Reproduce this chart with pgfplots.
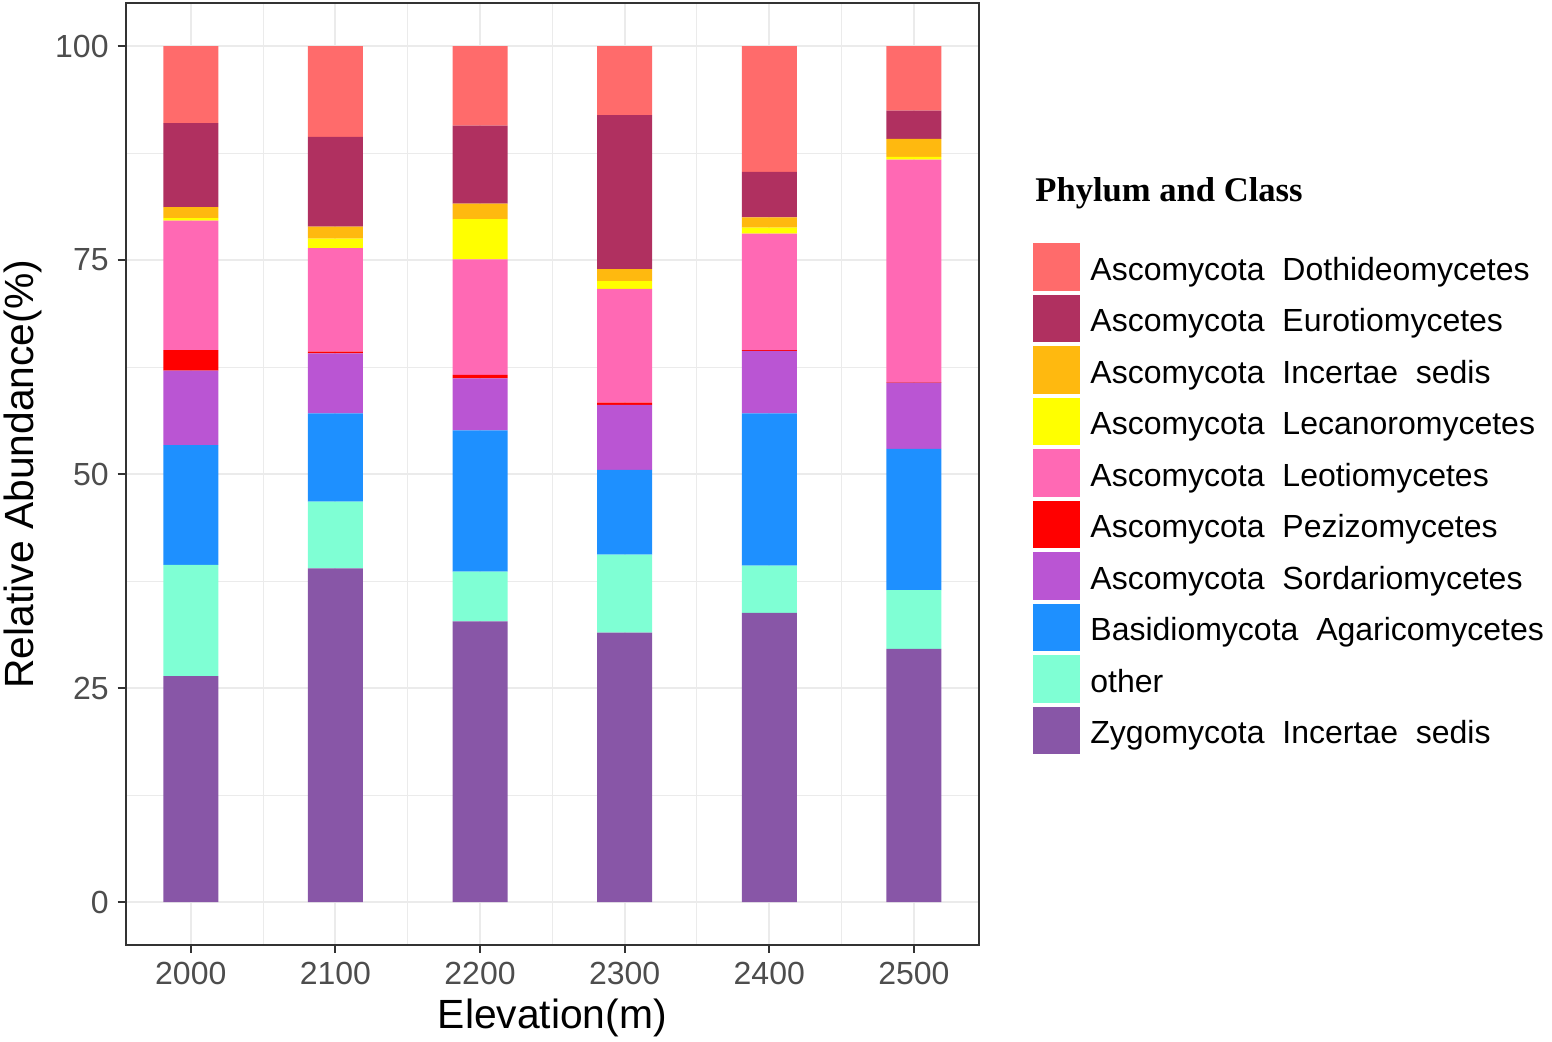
\documentclass[border=0pt]{standalone}
\usepackage{pgfplots}
\pgfplotsset{compat=1.18}
\usepackage{pgfplotstable}
\usepackage{fontspec}
\setmainfont{Liberation Sans}
\newfontfamily\titleserif{Liberation Serif}
\definecolor{cDoth}{HTML}{FF6B6B}
\definecolor{cEuro}{HTML}{B03060}
\definecolor{cInc}{HTML}{FFB90F}
\definecolor{cLec}{HTML}{FFFF00}
\definecolor{cLeo}{HTML}{FF69B4}
\definecolor{cPez}{HTML}{FF0000}
\definecolor{cSord}{HTML}{BA55D3}
\definecolor{cAgar}{HTML}{1E90FF}
\definecolor{cOther}{HTML}{7FFFD4}
\definecolor{cZygo}{HTML}{8856A7}
\definecolor{gridc}{HTML}{EBEBEB}
\definecolor{axc}{HTML}{333333}
\definecolor{tickc}{HTML}{4D4D4D}
\pgfplotstableread{
x Zygo other Agar Sord Pez Leo Lec Inc Euro Doth
0 26.4 13.0 14.0 8.7 2.4 15.1 0.3 1.3 9.8 9.0
1 39.0 7.8 10.3 7.0 0.2 12.1 1.1 1.4 10.5 10.6
2 32.8 5.8 16.5 6.1 0.4 13.5 4.7 1.8 9.1 9.3
3 31.5 9.1 9.9 7.6 0.25 13.3 0.9 1.4 18.0 8.05
4 33.8 5.5 17.8 7.3 0.1 13.6 0.7 1.2 5.3 14.7
5 29.6 6.85 16.5 7.75 0.05 26.0 0.3 2.1 3.3 7.55
}\data
\newcommand{\gap}{\hspace{0.556em}}
\begin{document}
\begin{tikzpicture}
\useasboundingbox (-62.85pt,-48.5pt) rectangle (713.15pt,472.5pt);
\begin{axis}[
  scale only axis, width=426.65pt, height=470.85pt,
  xmin=-0.45, xmax=5.45, ymin=-5, ymax=105,
  ybar stacked, bar width=0.38,
  clip=false,
  xtick={0,1,2,3,4,5},
  xticklabels={2000,2100,2200,2300,2400,2500},
  ytick={0,25,50,75,100},
  minor xtick={0.5,1.5,2.5,3.5,4.5},
  minor ytick={12.5,37.5,62.5,87.5},
  grid=both,
  major grid style={color=gridc, line width=1pt},
  minor grid style={color=gridc, line width=0.5pt},
  tick align=outside, major tick length=4pt, minor tick length=0pt,
  xtick pos=bottom, ytick pos=left,
  tick style={color=axc, line width=1pt},
  axis line style={color=axc, line width=1pt},
  /pgf/number format/assume math mode=true,
  tick label style={font=\fontsize{16}{19}\selectfont, color=tickc, inner sep=0pt},
  yticklabel style={anchor=east, xshift=-4.35pt},
  xticklabel style={anchor=north, yshift=-4.35pt},
  xlabel={Elevation(m)},
  ylabel={Relative Abundance(\%)},
  label style={font=\fontsize{20.4}{24}\selectfont, inner sep=0pt},
  xlabel style={at={(axis description cs:0.5,-0.0885)}, anchor=base},
  ylabel style={at={(axis description cs:-0.1075,0.5)}, anchor=base, rotate=0},
  legend style={at={(axis description cs:1.0633,0.7452)}, anchor=north west,
    draw=none, fill=none, inner sep=0pt, outer sep=0pt,
    row sep=2.05pt, column sep=5pt,
    font=\fontsize{16}{19}\selectfont,
    nodes={inner sep=0pt},
    cells={anchor=base west}},
  reverse legend,
  legend image code/.code={\fill[#1,draw=none] (0pt,-5.3pt) rectangle (23.7pt,18.4pt);},
]
\addplot+[fill=cZygo, draw=none] table[x=x,y=Zygo]{\data};
\addlegendentry{Zygomycota\gap Incertae\gap sedis}
\addplot+[fill=cOther, draw=none] table[x=x,y=other]{\data};
\addlegendentry{other}
\addplot+[fill=cAgar, draw=none] table[x=x,y=Agar]{\data};
\addlegendentry{Basidiomycota\gap Agaricomycetes}
\addplot+[fill=cSord, draw=none] table[x=x,y=Sord]{\data};
\addlegendentry{Ascomycota\gap Sordariomycetes}
\addplot+[fill=cPez, draw=none] table[x=x,y=Pez]{\data};
\addlegendentry{Ascomycota\gap Pezizomycetes}
\addplot+[fill=cLeo, draw=none] table[x=x,y=Leo]{\data};
\addlegendentry{Ascomycota\gap Leotiomycetes}
\addplot+[fill=cLec, draw=none] table[x=x,y=Lec]{\data};
\addlegendentry{Ascomycota\gap Lecanoromycetes}
\addplot+[fill=cInc, draw=none] table[x=x,y=Inc]{\data};
\addlegendentry{Ascomycota\gap Incertae\gap sedis}
\addplot+[fill=cEuro, draw=none] table[x=x,y=Euro]{\data};
\addlegendentry{Ascomycota\gap Eurotiomycetes}
\addplot+[fill=cDoth, draw=none] table[x=x,y=Doth]{\data};
\addlegendentry{Ascomycota\gap Dothideomycetes}
\node[anchor=base west, inner sep=0pt, font=\titleserif\bfseries\fontsize{17.3}{20}\selectfont] at (axis description cs:1.0656,0.7893) {Phylum and Class};
\end{axis}
\end{tikzpicture}
\end{document}
